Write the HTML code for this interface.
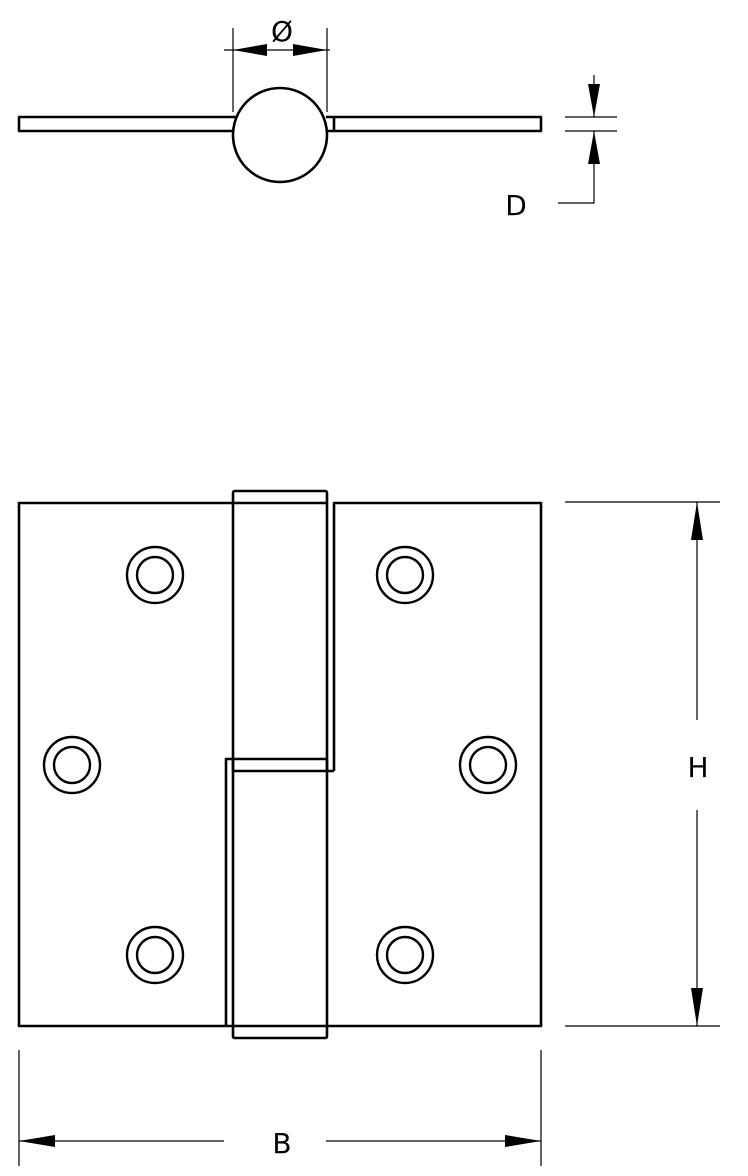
<!DOCTYPE html>
<html><head><style>
html,body{margin:0;padding:0;background:#fff;}
svg{display:block;}
text{font-family:"DejaVu Sans","Liberation Sans",sans-serif;fill:#000;}
</style></head><body>
<svg width="748" height="1176" viewBox="0 0 748 1176" xmlns="http://www.w3.org/2000/svg">
<g fill="none" stroke="#000" stroke-width="2.6" stroke-linejoin="round">
  <!-- top view -->
  <path d="M236,117 H19 V131 H236"/>
  <path d="M326,117 H541 V131 H326"/>
  <line x1="334" y1="117" x2="334" y2="131"/>
  <circle cx="280" cy="135" r="47" fill="#fff"/>
  <!-- front view leaves -->
  <path d="M233,503 H19 V1026 H233"/>
  <path d="M226,1026 V759 H327"/>
  <path d="M334,771 V503 H541 V1026 H327"/>
  <line x1="233" y1="771" x2="334" y2="771"/>
  <!-- upper knuckle -->
  <path d="M233,771 V493 Q233,491 235,491 H325 Q327,491 327,493 V771"/>
  <line x1="233" y1="503" x2="327" y2="503"/>
  <!-- lower knuckle -->
  <path d="M233,759 V1036 Q233,1038 235,1038 H325 Q327,1038 327,1036 V759"/>
  <line x1="233" y1="1026" x2="327" y2="1026"/>
  <!-- holes -->
  <g stroke-width="2.4">
    <circle cx="155" cy="575" r="28"/><circle cx="155" cy="575" r="18"/>
    <circle cx="405" cy="575" r="28"/><circle cx="405" cy="575" r="18"/>
    <circle cx="72" cy="765" r="28"/><circle cx="72" cy="765" r="18"/>
    <circle cx="488" cy="765" r="28"/><circle cx="488" cy="765" r="18"/>
    <circle cx="155" cy="955" r="28"/><circle cx="155" cy="955" r="18"/>
    <circle cx="405" cy="955" r="28"/><circle cx="405" cy="955" r="18"/>
  </g>
</g>
<g fill="none" stroke="#000" stroke-width="1.2">
  <!-- Ø dim -->
  <line x1="233" y1="28" x2="233" y2="112"/>
  <line x1="327" y1="28" x2="327" y2="112"/>
  <line x1="224" y1="50" x2="330" y2="50"/>
  <!-- D dim -->
  <line x1="565" y1="117" x2="617" y2="117"/>
  <line x1="565" y1="131" x2="617" y2="131"/>
  <line x1="594" y1="75" x2="594" y2="117"/>
  <path d="M594,131 V203 H558"/>
  <!-- H dim -->
  <line x1="565" y1="502" x2="720" y2="502"/>
  <line x1="565" y1="1026" x2="720" y2="1026"/>
  <line x1="697" y1="502" x2="697" y2="720"/>
  <line x1="697" y1="810" x2="697" y2="1026"/>
  <!-- B dim -->
  <line x1="19" y1="1050" x2="19" y2="1166"/>
  <line x1="541" y1="1050" x2="541" y2="1166"/>
  <line x1="19" y1="1141" x2="224" y2="1141"/>
  <line x1="326" y1="1141" x2="541" y2="1141"/>
</g>
<g fill="#000" stroke="none">
  <polygon points="233,50 267,44 267,56"/>
  <polygon points="327,50 293,44 293,56"/>
  <polygon points="594,117 588,84 600,84"/>
  <polygon points="594,131 588,164 600,164"/>
  <polygon points="697,502 691,540 703,540"/>
  <polygon points="697,1026 691,988 703,988"/>
  <polygon points="19,1141 55,1135 55,1147"/>
  <polygon points="541,1141 505,1135 505,1147"/>
</g>
<text x="282" y="41" font-size="28" text-anchor="middle">Ø</text>
<text x="516" y="215" font-size="28" text-anchor="middle">D</text>
<text x="698" y="777" font-size="28" text-anchor="middle">H</text>
<text x="282" y="1153" font-size="28" text-anchor="middle">B</text>
</svg>
</body></html>
